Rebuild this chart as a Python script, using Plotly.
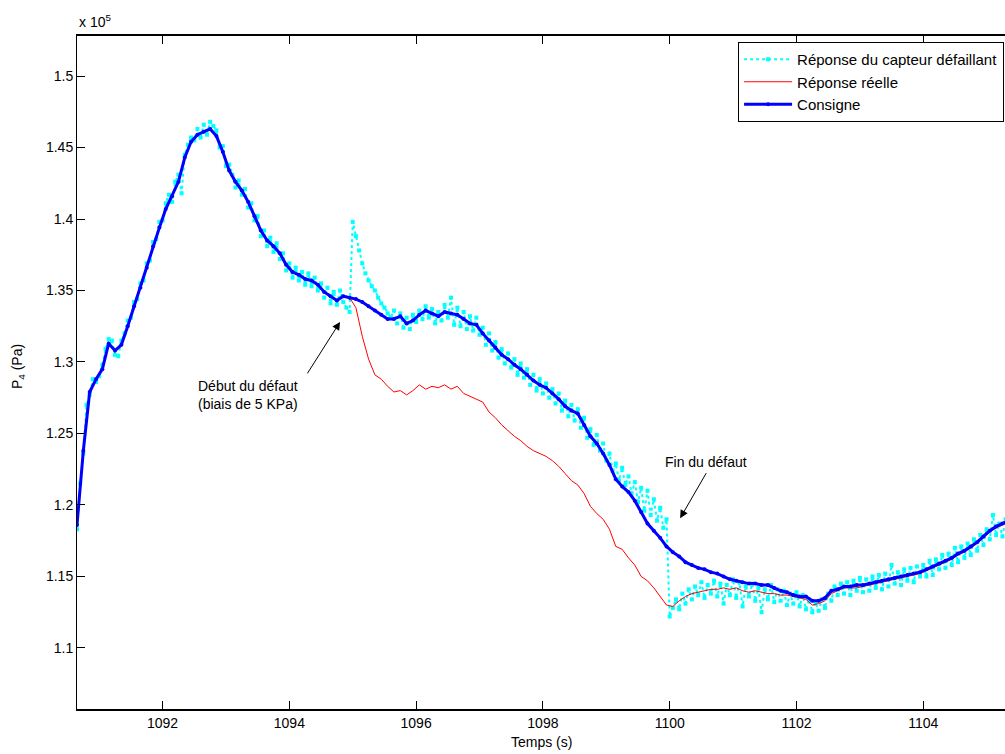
import numpy as np
import plotly.graph_objects as go

# ---------------- data (pressure in units of 1e5 Pa) ----------------
t_start = 1090.65
# coarse grid (0.1 s) for Consigne / Réponse réelle, fine grid (0.05 s) for sensor
consigne = [
    1.186, 1.238, 1.279, 1.288, 1.295, 1.313, 1.308, 1.312, 1.325, 1.339,
    1.352, 1.366, 1.381, 1.394, 1.407, 1.416, 1.426, 1.443, 1.454, 1.459,
    1.461, 1.463, 1.458, 1.447, 1.434, 1.426, 1.420, 1.412, 1.402, 1.392,
    1.385, 1.381, 1.376, 1.368, 1.363, 1.361, 1.358, 1.357, 1.354, 1.349,
    1.346, 1.343, 1.346, 1.345, 1.344, 1.342, 1.339, 1.336, 1.333, 1.330,
    1.330, 1.332, 1.327, 1.329, 1.333, 1.336, 1.334, 1.332, 1.335, 1.334,
    1.333, 1.330, 1.327, 1.326, 1.320, 1.315, 1.310, 1.305, 1.302, 1.298,
    1.295, 1.291, 1.287, 1.284, 1.282, 1.278, 1.274, 1.269, 1.266, 1.264,
    1.256, 1.248, 1.243, 1.236, 1.228, 1.218, 1.213, 1.209, 1.203, 1.195,
    1.187, 1.182, 1.177, 1.171, 1.167, 1.164, 1.160, 1.158, 1.156, 1.155,
    1.153, 1.152, 1.150, 1.148, 1.147, 1.146, 1.145, 1.145, 1.144, 1.144,
    1.142, 1.140, 1.139, 1.137, 1.136, 1.136, 1.133, 1.133, 1.135, 1.140,
    1.141, 1.143, 1.143, 1.144, 1.144, 1.145, 1.146, 1.147, 1.148, 1.149,
    1.150, 1.151, 1.152, 1.153, 1.155, 1.157, 1.159, 1.161, 1.163, 1.166,
    1.168, 1.171, 1.174, 1.178, 1.182, 1.185, 1.187, 1.189,
]
reponse_reelle = [
    1.186, 1.238, 1.279, 1.288, 1.295, 1.313, 1.308, 1.312, 1.325, 1.339,
    1.352, 1.366, 1.381, 1.394, 1.407, 1.416, 1.426, 1.443, 1.454, 1.459,
    1.461, 1.463, 1.458, 1.447, 1.434, 1.426, 1.420, 1.412, 1.402, 1.392,
    1.385, 1.381, 1.376, 1.368, 1.363, 1.361, 1.358, 1.357, 1.354, 1.349,
    1.346, 1.343, 1.346, 1.345, 1.338, 1.318, 1.302, 1.291, 1.288, 1.283,
    1.279, 1.280, 1.277, 1.280, 1.284, 1.281, 1.283, 1.282, 1.284, 1.281,
    1.283, 1.278, 1.276, 1.274, 1.272, 1.265, 1.261, 1.256, 1.252, 1.248,
    1.245, 1.241, 1.238, 1.236, 1.234, 1.231, 1.227, 1.222, 1.217, 1.214,
    1.208, 1.199, 1.194, 1.190, 1.183, 1.171, 1.169, 1.163, 1.158, 1.150,
    1.147, 1.142, 1.136, 1.130, 1.129, 1.133, 1.136, 1.138, 1.139, 1.140,
    1.141, 1.141, 1.142, 1.141, 1.142, 1.140, 1.139, 1.140, 1.139, 1.138,
    1.138, 1.137, 1.137, 1.136, 1.135, 1.134, 1.130, 1.131, 1.133, 1.138,
    1.140, 1.142, 1.142, 1.142, 1.143, 1.144, 1.145, 1.146, 1.147, 1.148,
    1.149, 1.150, 1.151, 1.152, 1.154, 1.156, 1.158, 1.160, 1.162, 1.165,
    1.167, 1.170, 1.173, 1.177, 1.181, 1.184, 1.186, 1.188,
]
capteur = [
    1.183, 1.215, 1.236, 1.270, 1.277, 1.288, 1.286, 1.290, 1.298, 1.309,
    1.316, 1.315, 1.305, 1.304, 1.315, 1.320, 1.329, 1.331, 1.342, 1.344,
    1.355, 1.357, 1.369, 1.371, 1.384, 1.386, 1.398, 1.399, 1.411, 1.417,
    1.412, 1.426, 1.431, 1.418, 1.445, 1.452, 1.457, 1.455, 1.463, 1.457,
    1.466, 1.459, 1.468, 1.465, 1.462, 1.450, 1.451, 1.437, 1.438, 1.431,
    1.422, 1.427, 1.417, 1.421, 1.408, 1.411, 1.399, 1.402, 1.388, 1.392,
    1.381, 1.387, 1.377, 1.383, 1.372, 1.376, 1.364, 1.369, 1.359, 1.366,
    1.357, 1.363, 1.354, 1.362, 1.353, 1.359, 1.350, 1.355, 1.345, 1.352,
    1.341, 1.349, 1.340, 1.350, 1.342, 1.338, 1.335, 1.398, 1.388, 1.378,
    1.369, 1.362, 1.357, 1.353, 1.350, 1.345, 1.341, 1.338, 1.334, 1.331,
    1.336, 1.327, 1.334, 1.324, 1.331, 1.323, 1.333, 1.328, 1.336, 1.330,
    1.339, 1.331, 1.337, 1.327, 1.335, 1.329, 1.340, 1.331, 1.345, 1.326,
    1.338, 1.325, 1.335, 1.323, 1.332, 1.322, 1.331, 1.319, 1.324, 1.312,
    1.320, 1.308, 1.314, 1.303, 1.309, 1.299, 1.306, 1.296, 1.302, 1.291,
    1.299, 1.289, 1.295, 1.284, 1.291, 1.280, 1.288, 1.278, 1.285, 1.275,
    1.281, 1.271, 1.278, 1.266, 1.273, 1.262, 1.270, 1.259, 1.267, 1.254,
    1.261, 1.247, 1.253, 1.242, 1.249, 1.238, 1.243, 1.231, 1.236, 1.224,
    1.229, 1.217, 1.226, 1.214, 1.220, 1.208, 1.216, 1.202, 1.212, 1.196,
    1.210, 1.193, 1.204, 1.189, 1.198, 1.184, 1.190, 1.122, 1.128, 1.134,
    1.127, 1.138, 1.131, 1.141, 1.134, 1.143, 1.137, 1.146, 1.135, 1.144,
    1.138, 1.147, 1.136, 1.145, 1.131, 1.144, 1.137, 1.148, 1.135, 1.146,
    1.129, 1.143, 1.136, 1.145, 1.133, 1.142, 1.125, 1.141, 1.134, 1.144,
    1.132, 1.141, 1.133, 1.140, 1.130, 1.138, 1.131, 1.139, 1.129, 1.137,
    1.127, 1.134, 1.125, 1.132, 1.126, 1.134, 1.128, 1.138, 1.133, 1.143,
    1.137, 1.145, 1.138, 1.146, 1.137, 1.147, 1.140, 1.149, 1.139, 1.148,
    1.140, 1.150, 1.142, 1.151, 1.141, 1.152, 1.143, 1.158, 1.145, 1.153,
    1.144, 1.155, 1.147, 1.156, 1.146, 1.157, 1.150, 1.158, 1.150, 1.161,
    1.151, 1.162, 1.155, 1.165, 1.156, 1.166, 1.158, 1.170, 1.160, 1.171,
    1.163, 1.173, 1.165, 1.176, 1.168, 1.179, 1.172, 1.183, 1.176, 1.193,
    1.179, 1.187, 1.178, 1.190, 1.185,
]
t_coarse = np.round(t_start + 0.1 * np.arange(len(consigne)), 3)
t_fine = np.round(t_start + 0.05 * np.arange(len(capteur)), 3)

x_ticks = [1092, 1094, 1096, 1098, 1100, 1102, 1104]
y_ticks = [1.1, 1.15, 1.2, 1.25, 1.3, 1.35, 1.4, 1.45, 1.5]
y_tick_labels = ["1.1", "1.15", "1.2", "1.25", "1.3", "1.35", "1.4", "1.45", "1.5"]
x_range = [1090.65, 1105.29]
y_range = [1.0573, 1.528]

FONT = "Liberation Sans, Arial, Helvetica, sans-serif"

fig = go.Figure()
fig.add_trace(go.Scatter(
    x=t_fine, y=capteur, mode="lines+markers",
    name="Réponse du capteur défaillant",
    line=dict(color="#00FFFF", width=2, dash="dot"),
    marker=dict(color="#00FFFF", size=4, symbol="square"),
))
fig.add_trace(go.Scatter(
    x=t_coarse, y=reponse_reelle, mode="lines",
    name="Réponse réelle",
    line=dict(color="#FF0000", width=1),
))
fig.add_trace(go.Scatter(
    x=t_coarse, y=consigne, mode="lines+markers",
    name="Consigne",
    line=dict(color="#0000FF", width=3),
    marker=dict(color="#0000FF", size=4),
))

ann = []
# arrows
ann.append(dict(x=1094.80, y=1.328, ax=1094.27, ay=1.291, xref="x", yref="y",
                axref="x", ayref="y", text="", showarrow=True, arrowhead=2,
                arrowsize=1.6, arrowwidth=1, arrowcolor="black"))
ann.append(dict(x=1100.165, y=1.1907, ax=1100.59, ay=1.2233, xref="x", yref="y",
                axref="x", ayref="y", text="", showarrow=True, arrowhead=2,
                arrowsize=1.6, arrowwidth=1, arrowcolor="black"))
ann.append(dict(x=1093.35, y=1.2766, xref="x", yref="y", showarrow=False,
                text="Début du défaut<br>(biais de 5 KPa)",
                font=dict(size=14, color="black", family=FONT), align="center"))
ann.append(dict(x=1100.58, y=1.2303, xref="x", yref="y", showarrow=False,
                text="Fin du défaut",
                font=dict(size=14, color="black", family=FONT)))
# exponent label
ann.append(dict(x=0, y=1, xref="paper", yref="paper", xanchor="left",
                yanchor="bottom", yshift=4, showarrow=False,
                text="x 10<sup>5</sup>",
                font=dict(size=14, color="black", family=FONT)))
# axis titles
ann.append(dict(x=0.5, y=-(742 - 709) / 673, xref="paper", yref="paper",
                xanchor="center", yanchor="middle",
                showarrow=False, text="Temps (s)",
                font=dict(size=14, color="black", family=FONT)))
ann.append(dict(x=(18 - 77) / 928, y=(709 - 367) / 673, xref="paper", yref="paper",
                xanchor="center", yanchor="middle",
                showarrow=False, text="P<sub>4</sub> (Pa)", textangle=-90,
                font=dict(size=14, color="black", family=FONT)))

fig.update_layout(
    width=1005, height=754,
    margin=dict(l=77, r=0, t=36, b=45),
    paper_bgcolor="white", plot_bgcolor="white",
    font=dict(family=FONT, size=14, color="black"),
    showlegend=True,
    legend=dict(x=0.999, y=1 - (42 - 36) / 673, xanchor="right", yanchor="top",
                bgcolor="white", bordercolor="black", borderwidth=1,
                font=dict(size=15, family=FONT, color="black"),
                itemwidth=48, tracegroupgap=0),
    annotations=ann,
    xaxis=dict(range=x_range, tickvals=x_ticks, ticks="inside", ticklen=8,
               tickcolor="black", showline=True, linecolor="black", linewidth=1.5,
               mirror="ticks", showgrid=False, zeroline=False,
               tickfont=dict(size=14, family=FONT, color="black")),
    yaxis=dict(range=y_range, tickvals=y_ticks, ticktext=y_tick_labels,
               ticks="inside", ticklen=8, tickcolor="black", showline=True,
               linecolor="black", linewidth=1, showgrid=False, zeroline=False,
               tickfont=dict(size=14, family=FONT, color="black")),
)

fig.write_html("out.html", config={"displayModeBar": False},
               post_script="document.body.style.margin='0';document.body.style.overflow='hidden';")
